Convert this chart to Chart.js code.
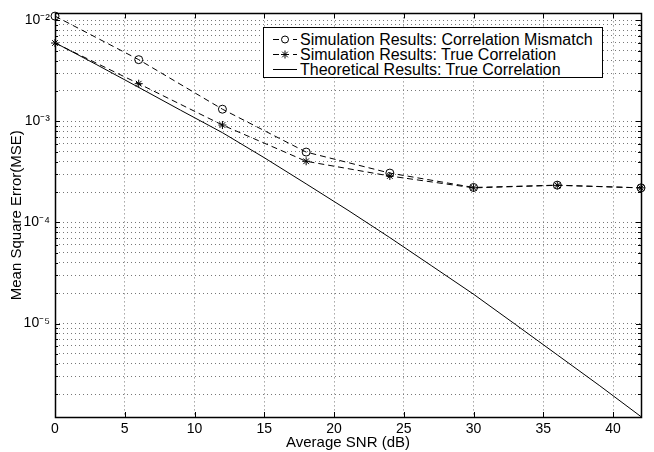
<!DOCTYPE html>
<html>
<head>
<meta charset="utf-8">
<script src="https://cdn.jsdelivr.net/npm/chart.js@4/dist/chart.umd.min.js"></script>
<style>
  html, body { margin: 0; padding: 0; background: #fff; }
  #wrap { position: relative; width: 654px; height: 452px; }
  #legend { position: absolute; left: 263px; top: 27px; width: 340px; height: 51px;
    border: 1px solid #000; background: #fff; font-family: 'Liberation Sans', Arial, sans-serif;
    font-size: 16px; color: #000; box-sizing: border-box; padding-top: 4px; }
  .row { height: 15px; line-height: 15px; display: flex; align-items: center; white-space: nowrap; }
  .row svg { width: 36px; height: 15px; flex: none; }
</style>
</head>
<body>
<div id="wrap">
  <canvas id="c" width="654" height="452"></canvas>
  <div id="legend"></div>
</div>
<script>
// ---- data ----
const markerSnr = [0, 6, 12, 18, 24, 30, 36, 42];
const mismatchMse = [1.1e-2, 4.08e-3, 1.32e-3, 4.97e-4, 3.08e-4, 2.22e-4, 2.34e-4, 2.2e-4];
const trueCorrMse = [5.96e-3, 2.36e-3, 9.2e-4, 4.03e-4, 2.88e-4, 2.2e-4, 2.33e-4, 2.2e-4];
const theorySnr = [0, 3, 6, 9, 12, 15, 18, 21, 24, 27, 30, 33, 36, 39, 42];
const theoryMse = [6.0e-3, 3.63e-3, 2.17e-3, 1.29e-3, 7.73e-4, 4.37e-4, 2.41e-4, 1.32e-4,
                   7.08e-5, 3.72e-5, 1.95e-5, 9.8e-6, 4.9e-6, 2.45e-6, 1.2e-6];
const seriesNames = ['Simulation Results: Correlation Mismatch',
                     'Simulation Results: True Correlation',
                     'Theoretical Results: True Correlation'];
const xTickStep = 5;
const xMin = 0, xMax = 42;
const yMin = 1.19e-6, yMax = 1.17e-2;
const decadeLabels = { '-2': '10\u207B\u00B2', '-3': '10\u207B\u00B3', '-4': '10\u207B\u2074', '-5': '10\u207B\u2075' };

const pts = (xs, ys) => xs.map((x, i) => ({ x, y: ys[i] }));
const FONT = "'Liberation Sans', Arial, sans-serif";

const frame = {
  id: 'frame',
  afterDraw(chart) {
    const { ctx, chartArea: a, scales } = chart;
    ctx.save();
    ctx.strokeStyle = '#000';
    ctx.setLineDash([]);
    ctx.lineWidth = 1;
    ctx.beginPath();
    scales.x.ticks.forEach(t => {
      const px = Math.round(scales.x.getPixelForValue(t.value)) + 0.5;
      ctx.moveTo(px, a.bottom); ctx.lineTo(px, a.bottom - 5);
      ctx.moveTo(px, a.top); ctx.lineTo(px, a.top + 5);
    });
    scales.y.ticks.forEach(t => {
      const py = Math.round(scales.y.getPixelForValue(t.value)) + 0.5;
      const major = Math.abs(Math.log10(t.value) - Math.round(Math.log10(t.value))) < 1e-6;
      const len = major ? 5 : 3;
      ctx.moveTo(a.left, py); ctx.lineTo(a.left + len, py);
      ctx.moveTo(a.right, py); ctx.lineTo(a.right - len, py);
    });
    ctx.stroke();
    ctx.lineWidth = 1.5;
    ctx.strokeRect(Math.round(a.left) + 0.5, Math.round(a.top) + 0.5,
                   Math.round(a.right - a.left), Math.round(a.bottom - a.top));
    ctx.restore();
  }
};

const chart = new Chart(document.getElementById('c'), {
  type: 'line',
  data: {
    datasets: [
      { label: seriesNames[0], data: pts(markerSnr, mismatchMse), borderColor: '#000', borderWidth: 1,
        borderDash: [6, 4], pointStyle: 'circle', pointRadius: 4, pointBorderColor: '#000',
        pointBackgroundColor: 'rgba(0,0,0,0)', pointBorderWidth: 1, tension: 0, fill: false },
      { label: seriesNames[1], data: pts(markerSnr, trueCorrMse), borderColor: '#000', borderWidth: 1,
        borderDash: [6, 4], pointStyle: 'star', pointRadius: 4, pointBorderColor: '#000',
        pointBackgroundColor: '#000', pointBorderWidth: 1, tension: 0, fill: false },
      { label: seriesNames[2], data: pts(theorySnr, theoryMse), borderColor: '#000', borderWidth: 1,
        pointRadius: 0, tension: 0, fill: false }
    ]
  },
  options: {
    responsive: false,
    animation: false,
    clip: false,
    layout: { padding: { top: 10, right: 13, left: 0, bottom: 0 } },
    plugins: { legend: { display: false }, tooltip: { enabled: false } },
    scales: {
      x: {
        type: 'linear', min: xMin, max: xMax,
        afterFit(s) { s.height = 35; },
        grid: { color: '#777', drawTicks: false, lineWidth: 1 },
        border: { display: false, dash: [1, 3] },
        ticks: { stepSize: xTickStep, includeBounds: false, padding: 4, color: '#000',
                 font: { family: FONT, size: 14 }, maxRotation: 0 },
        title: { display: true, text: 'Average SNR (dB)', color: '#000',
                 font: { family: FONT, size: 15 }, padding: { top: 0, bottom: 0 } }
      },
      y: {
        type: 'logarithmic', min: yMin, max: yMax,
        afterFit(s) { s.width = 55; },
        afterBuildTicks(s) {
          const t = [];
          for (let k = -7; k <= -1; k++) for (let m = 1; m <= 9; m++) {
            const v = m * Math.pow(10, k);
            if (v >= yMin && v <= yMax) t.push({ value: v, major: m === 1 });
          }
          s.ticks = t;
        },
        grid: { color: '#777', drawTicks: false, lineWidth: 1 },
        border: { display: false, dash: [1, 3] },
        ticks: { autoSkip: false, padding: 5, color: '#000', font: { family: FONT, size: 14 },
                 callback(v) {
                   const l = Math.log10(v), r = Math.round(l);
                   return Math.abs(l - r) < 1e-6 && decadeLabels[String(r)] ? decadeLabels[String(r)] : '';
                 } },
        title: { display: true, text: 'Mean Square Error(MSE)', color: '#000',
                 font: { family: FONT, size: 15 }, padding: { top: 8, bottom: 0 } }
      }
    }
  },
  plugins: [frame]
});

// HTML legend built from dataset styles
const legend = document.getElementById('legend');
chart.data.datasets.forEach(ds => {
  const row = document.createElement('div');
  row.className = 'row';
  const dash = ds.borderDash ? 'stroke-dasharray="6 4"' : '';
  let marker = '';
  if (ds.pointStyle === 'circle' && ds.pointRadius) marker = '<circle cx="21" cy="7.5" r="3.5" fill="#fff" stroke="#000"/>';
  if (ds.pointStyle === 'star' && ds.pointRadius) marker = '<path d="M21 3.5V11.5M17 7.5H25M18.2 4.7L23.8 10.3M23.8 4.7L18.2 10.3" stroke="#000"/>';
  row.innerHTML = '<svg viewBox="0 0 36 15"><line x1="9" y1="7.5" x2="33" y2="7.5" stroke="#000" ' + dash + '/>' + marker + '</svg><span>' + ds.label + '</span>';
  legend.appendChild(row);
});
</script>
</body>
</html>
